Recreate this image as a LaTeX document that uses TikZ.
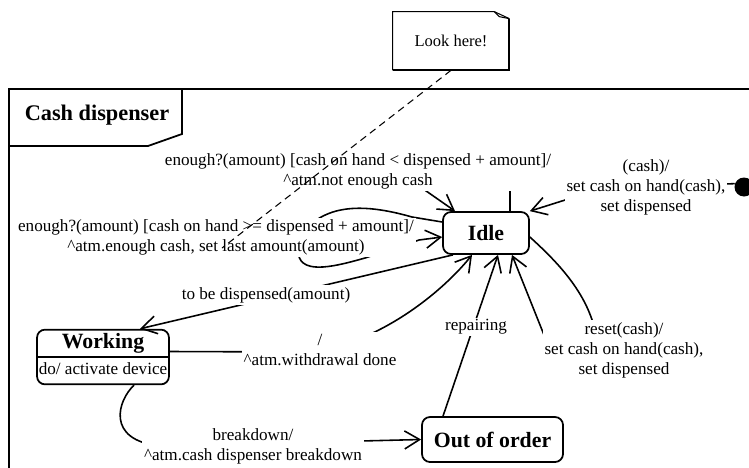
\documentclass[tikz,border=0pt]{standalone}
\usepackage{fontspec}
\setmainfont{Liberation Serif}
\usetikzlibrary{arrows.meta, shapes.multipart}

\begin{document}
\begin{tikzpicture}[
    >={Straight Barb[length=3mm,width=3.6mm]},
    font=\fontsize{9.75}{11.4}\selectfont,
    state/.style={draw, line width=1pt, rounded corners=0.16cm, align=center,
                  font=\fontsize{12.4}{14}\selectfont\bfseries},
    lbl/.style={fill=white, inner sep=1pt, align=center},
    trans/.style={line width=0.9pt},
  ]
    \useasboundingbox (0,0) rectangle (14.98,9.34);
    \clip (0,0) rectangle (14.98,9.34);
    % ---- frame and its tab ----
    \draw[line width=1pt] (0.18,-0.5) -- (0.18,7.56) -- (15.5,7.56);
    \draw[line width=1pt] (0.18,7.56) -- (3.64,7.56) -- (3.64,6.66) -- (2.96,6.42) -- (0.18,6.42);
    \node[font=\fontsize{12.7}{14}\selectfont\bfseries] (tab) at (1.94,7.04) {Cash dispenser};
    % ---- states ----
    \node[state, minimum width=1.72cm, minimum height=0.84cm] (idle) at (9.72,4.68) {Idle};
    \node[state, rectangle split, rectangle split parts=2, inner xsep=1pt, inner ysep=1.6pt]
         (working) at (2.06,2.2)
         {Working\nodepart{two}\mdseries\fontsize{9.75}{11.4}\selectfont\strut do/ activate device};
    \node[state, minimum width=2.82cm, minimum height=0.9cm] (ooo) at (9.85,0.55) {Out of order};
    \node[circle, fill, inner sep=0pt, minimum size=0.38cm] (init) at (14.88,5.6) {};
    % ---- note ----
    \node[minimum width=2.32cm, minimum height=1.16cm, font=\fontsize{9.4}{11}\selectfont]
         (note) at (9.02,8.52) {Look here!};
    \draw[line width=0.6pt] (note.south west) -- (note.north west)
         -- ([xshift=-0.3cm]note.north east) -- ([yshift=-0.14cm]note.north east);
    \draw[line width=0.6pt] ([xshift=-0.3cm]note.north east)
         -- ([xshift=-0.2cm,yshift=-0.1cm]note.north east) -- ([yshift=-0.14cm]note.north east);
    \draw[line width=1.2pt] ([yshift=-0.14cm]note.north east) -- (note.south east) -- (note.south west);
    % ---- transitions ----
    \draw[trans, ->] (init.160) -- (12.0,5.56) -- (idle.north east);
    \draw[trans, ->] ([xshift=0.48cm]idle.north) -- (10.2,5.74) -- (8.38,5.62)
         -- ([xshift=-0.62cm]idle.north);
    \draw[trans, ->] ([yshift=0.22cm]idle.west) -- (8.24,5.0)
         .. controls (7.4,5.24) and (6.6,5.3) .. (6.1,4.74) -- (5.96,4.34)
         .. controls (5.96,3.84) and (6.6,3.98) .. (7.3,4.18) -- (8.38,4.54)
         -- ([yshift=-0.08cm]idle.west);
    \draw[trans, ->] ([xshift=-0.66cm]idle.south) -- ([xshift=0.74cm]working.north);
    \draw[trans, ->] ([yshift=0.11cm]working.east) -- (6.0,2.3)
         .. controls (7.4,2.34) and (8.8,3.44) .. ([xshift=-0.28cm]idle.south);
    \draw[trans, ->] ([xshift=0.62cm]working.south)
         .. controls (2.36,1.34) and (2.1,0.54) .. (3.2,0.42) -- (ooo.west);
    \draw[trans, ->] ([xshift=-0.99cm]ooo.north) -- ([xshift=0.24cm]idle.south);
    \draw[trans, ->] ([yshift=-0.08cm]idle.east)
         .. controls (11.1,4.14) and (11.76,3.5) .. (11.92,2.64) -- (10.96,2.44)
         -- ([xshift=0.52cm]idle.south);
    % ---- transition labels ----
    \node[lbl] (lblInit) at (12.92,5.6) {(cash)/\\set cash on hand(cash),\\set dispensed};
    \node[lbl] (lblNot) at (7.16,5.92)
         {enough?(amount) [cash on hand < dispensed + amount]/\\\textasciicircum{}atm.not enough cash};
    \node[lbl] (lblEnough) at (4.32,4.59)
         {enough?(amount) [cash on hand >= dispensed + amount]/\\\textasciicircum{}atm.enough cash, set last amount(amount)};
    \node[lbl] (lblDisp) at (5.32,3.44) {to be dispensed(amount)};
    \node[lbl] (lblDone) at (6.4,2.34) {/\\\textasciicircum{}atm.withdrawal done};
    \node[lbl] (lblBreak) at (5.06,0.42) {breakdown/\\\textasciicircum{}atm.cash dispenser breakdown};
    \node[lbl] (lblRepair) at (9.52,2.8) {repairing};
    \node[lbl] (lblReset) at (12.48,2.34) {reset(cash)/\\set cash on hand(cash),\\set dispensed};
    % ---- note anchor ----
    \coordinate (noteEnd) at (4.44,4.38);
    \draw[line width=0.6pt, dash pattern=on 4pt off 2.8pt] (note.south) -- (noteEnd);
\end{tikzpicture}
\end{document}
